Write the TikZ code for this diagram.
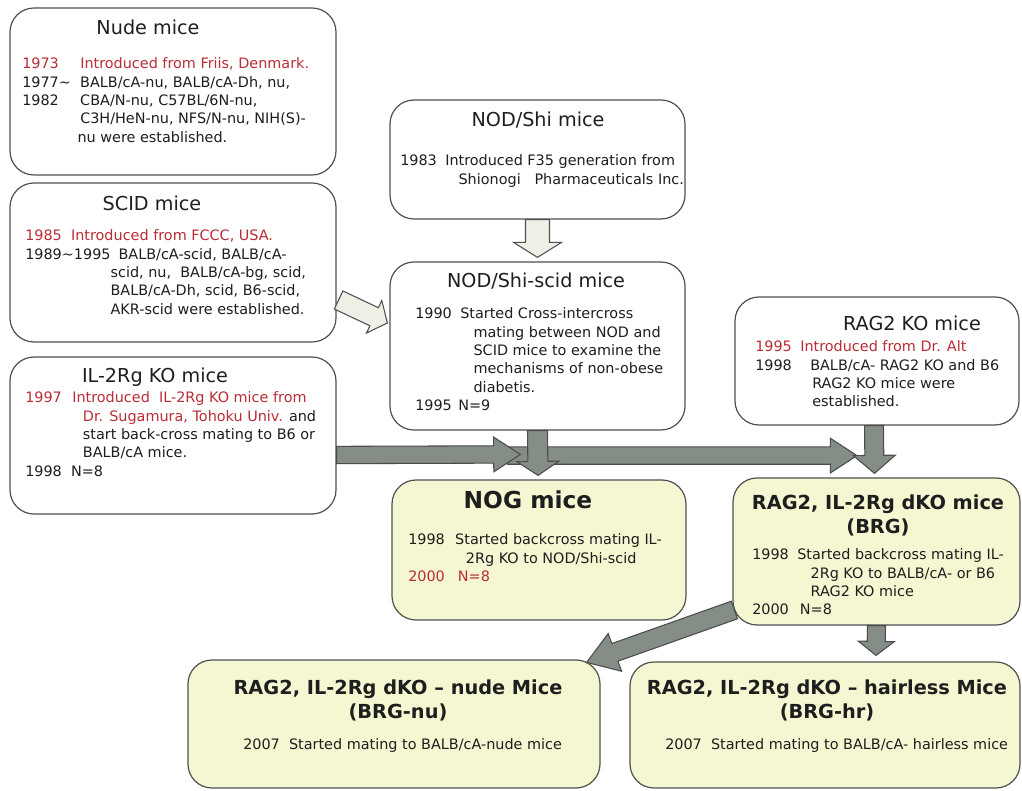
\documentclass[tikz,border=0pt]{standalone}
\usepackage{fontspec}
\setmainfont{DejaVu Sans}
\usetikzlibrary{calc}
\definecolor{redtxt}{RGB}{185,45,55}
\definecolor{boxline}{RGB}{80,80,80}
\definecolor{yell}{RGB}{245,247,210}
\definecolor{agray}{RGB}{133,141,135}
\definecolor{alight}{RGB}{237,240,228}
\definecolor{txt}{RGB}{30,30,30}
\newcommand\rd[1]{\textcolor{redtxt}{#1}}
\newcommand\bodyfont{\fontsize{10.8}{13.7}\selectfont}
\newcommand\blockarrow[6]{%
  \path (#3) coordinate (BAtip) ($(#3)!#6!(#2)$) coordinate (BAh) (#2) coordinate (BAs);
  \draw[#1] ($(BAs)!#4!90:(BAtip)$) -- ($(BAh)!#4!90:(BAtip)$) -- ($(BAh)!#5!90:(BAtip)$)
    -- (BAtip) -- ($(BAh)!#5!-90:(BAtip)$) -- ($(BAh)!#4!-90:(BAtip)$) -- ($(BAs)!#4!-90:(BAtip)$) -- cycle;
}
\begin{document}
\begin{tikzpicture}[x=0.75pt,y=-0.75pt,
  box/.style={draw=boxline, line width=0.9pt, rounded corners=18pt, fill=white, inner sep=0pt},
  ybox/.style={box, fill=yell},
  title/.style={font=\fontsize{14.4}{17}\selectfont, text=txt, inner sep=0pt},
  btitle/.style={font=\fontsize{14.5}{18}\selectfont\bfseries, text=txt, align=center, inner sep=0pt},
  body/.style={font=\bodyfont, text=txt, inner sep=0pt, anchor=base west},
  harrow/.style={fill=alight, draw=boxline, line width=0.8pt},
  garrow/.style={fill=agray, draw=black!70, line width=0.8pt}]
\useasboundingbox (0,0) rectangle (1022,791);
\fill[white] (0,0) rectangle (1022,791);

% boxes
\node[box, minimum width=244.5pt, minimum height=125.25pt] (nude) at (173,91.5) {};
\node[box, minimum width=244.5pt, minimum height=119.25pt] (scid) at (173,262.5) {};
\node[box, minimum width=244.5pt, minimum height=117.75pt] (il) at (173,435.5) {};
\node[box, minimum width=221.25pt, minimum height=89.25pt] (nodshi) at (537.5,159.5) {};
\node[box, minimum width=221.25pt, minimum height=126pt] (nodscid) at (537.5,346) {};
\node[box, minimum width=213pt, minimum height=96pt] (rag) at (877,361) {};
\node[ybox, minimum width=220.5pt, minimum height=105pt] (nog) at (539,550) {};
\node[ybox, minimum width=215.25pt, minimum height=110.25pt] (brg) at (876.5,551.5) {};
\node[ybox, minimum width=309pt, minimum height=96pt] (brgnu) at (394,724) {};
\node[ybox, minimum width=292.5pt, minimum height=94.5pt] (brghr) at (825,725) {};

% titles
\node[title] (nudeT) at (148,27) {Nude mice};
\node[title] (scidT) at (152,203) {SCID mice};
\node[title] (ilT) at (155,377) {IL-2Rg KO mice};
\node[title] (nodT) at (538,120) {NOD/Shi mice};
\node[title] (nodscidT) at (536,281) {NOD/Shi-scid mice};
\node[title] (ragT) at (912,323) {RAG2 KO mice};
\node[btitle, font=\fontsize{17.5}{20}\selectfont\bfseries] (nogT) at (528,500) {NOG mice};
\node[btitle] (brgT) at (878,515) {RAG2, IL-2Rg dKO mice\\(BRG)};
\node[btitle] (brgnuT) at (398,700) {RAG2, IL-2Rg dKO -- nude Mice\\(BRG-nu)};
\node[btitle] (brghrT) at (827,700) {RAG2, IL-2Rg dKO -- hairless Mice\\(BRG-hr)};

% bodies
\node[body] (nudeB) at (22,69) {\begin{tabular}[t]{@{}p{43.5pt}@{}l@{}}
\rd{1973} & \rd{Introduced from Friis, Denmark.}\\
1977\textasciitilde & BALB/cA-nu, BALB/cA-Dh, nu,\\
1982 & CBA/N-nu, C57BL/6N-nu,\\
 & C3H/HeN-nu, NFS/N-nu, NIH(S)-\\
 & \hspace*{-2pt}nu were established.
\end{tabular}};
\node[body] (scidB) at (25,241) {\begin{tabular}[t]{@{}p{70pt}@{}l@{}}
\multicolumn{2}{@{}l@{}}{\rd{1985\ \ Introduced from FCCC, USA.}}\\
1989\textasciitilde1995 & BALB/cA-scid, BALB/cA-\\
 & \hspace*{-6pt}scid, nu,\ \ BALB/cA-bg, scid,\\
 & \hspace*{-6pt}BALB/cA-Dh, scid, B6-scid,\\
 & \hspace*{-6pt}AKR-scid were established.
\end{tabular}};
\node[body] (ilB) at (25,403) {\begin{tabular}[t]{@{}p{35.25pt}@{}l@{}}
\rd{1997} & \rd{Introduced\ \ IL-2Rg KO mice from}\\
 & \hspace*{8pt}\rd{Dr. Sugamura, Tohoku Univ.} and\\
 & \hspace*{8pt}start back-cross mating to B6 or\\
 & \hspace*{8pt}BALB/cA mice.\\
\multicolumn{2}{@{}l@{}}{1998\ \ N=8}
\end{tabular}};
\node[body] (nodB) at (400,166) {\begin{tabular}[t]{@{}p{33.75pt}@{}l@{}}
1983 & Introduced F35 generation from\\
 & \hspace*{10pt}Shionogi\ \ \ Pharmaceuticals Inc.
\end{tabular}};
\node[body] (nodscidB) at (415,319) {\begin{tabular}[t]{@{}p{33.75pt}@{}l@{}}
1990 & Started Cross-intercross\\
 & \hspace*{10pt}mating between NOD and\\
 & \hspace*{10pt}SCID mice to examine the\\
 & \hspace*{10pt}mechanisms of non-obese\\
 & \hspace*{10pt}diabetis.\\
1995 & \hspace*{-1.5pt}N=9
\end{tabular}};
\node[body] (ragB) at (755,352) {\begin{tabular}[t]{@{}p{33.75pt}@{}l@{}}
\rd{1995} & \rd{Introduced from Dr. Alt}\\
1998 & \hspace*{7.5pt}BALB/cA- RAG2 KO and B6\\
 & \hspace*{9pt}RAG2 KO mice were\\
 & \hspace*{9pt}established.
\end{tabular}};
\node[body] (nogB) at (408,545) {\begin{tabular}[t]{@{}p{35.25pt}@{}l@{}}
1998 & Started backcross mating IL-\\
 & \hspace*{8pt}2Rg KO to NOD/Shi-scid\\
\rd{2000} & \hspace*{2pt}\rd{N=8}
\end{tabular}};
\node[body] (brgB) at (752,560) {\begin{tabular}[t]{@{}p{33.75pt}@{}l@{}}
1998 & Started backcross mating IL-\\
 & \hspace*{10pt}2Rg KO to BALB/cA- or B6\\
 & \hspace*{10pt}RAG2 KO mice\\
2000 & \hspace*{2pt}N=8
\end{tabular}};
\node[body] (brgnuB) at (243,749) {2007\ \ Started mating to BALB/cA-nude mice};
\node[body] (brghrB) at (665,749) {2007\ \ Started mating to BALB/cA- hairless mice};

% connector end points
\coordinate (a1s) at (nodshi.south);
\coordinate (a1e) at ($(nodscid.north)+(0,-4)$);
\coordinate (a2s) at ($(scid.east)+(2,37.5)$);
\coordinate (a2e) at ($(nodscid.west)+(-2,-23)$);
\coordinate (a3s) at ($(il.east)+(0,19.5)$);
\coordinate (a3e) at ($(nog.north west)+(129,-25)$);
\coordinate (a4s) at ($(nodscid.south)+(-30,25)$);
\coordinate (a4e) at ($(rag.south)+(-20,30)$);
\coordinate (a5s) at (nodscid.south);
\coordinate (a5e) at ($(nog.north)+(-1,-4)$);
\coordinate (a6s) at ($(rag.south)+(-3,0)$);
\coordinate (a6e) at ($(brg.north)+(-2,-4)$);
\coordinate (a7s) at ($(brg.west)+(2,58.5)$);
\coordinate (a7e) at ($(brgnu.north east)+(-14,3)$);
\coordinate (a8s) at (brg.south);
\coordinate (a8e) at ($(brghr.north)+(51,-6)$);

% arrows
\blockarrow{harrow}{a1s}{a1e}{9pt}{18pt}{11.25pt}
\blockarrow{harrow}{a2s}{a2e}{7.5pt}{13.5pt}{11pt}
\blockarrow{garrow}{a4s}{a4e}{6.5pt}{13pt}{20pt}
\blockarrow{garrow}{a3s}{a3e}{6.5pt}{13pt}{20pt}
\blockarrow{garrow}{a5s}{a5e}{7.5pt}{15.75pt}{10.5pt}
\blockarrow{garrow}{a6s}{a6e}{7.1pt}{15.75pt}{13.5pt}
\blockarrow{garrow}{a7s}{a7e}{7pt}{15pt}{22.5pt}
\blockarrow{garrow}{a8s}{a8e}{6.75pt}{13.5pt}{10.5pt}
\end{tikzpicture}
\end{document}
